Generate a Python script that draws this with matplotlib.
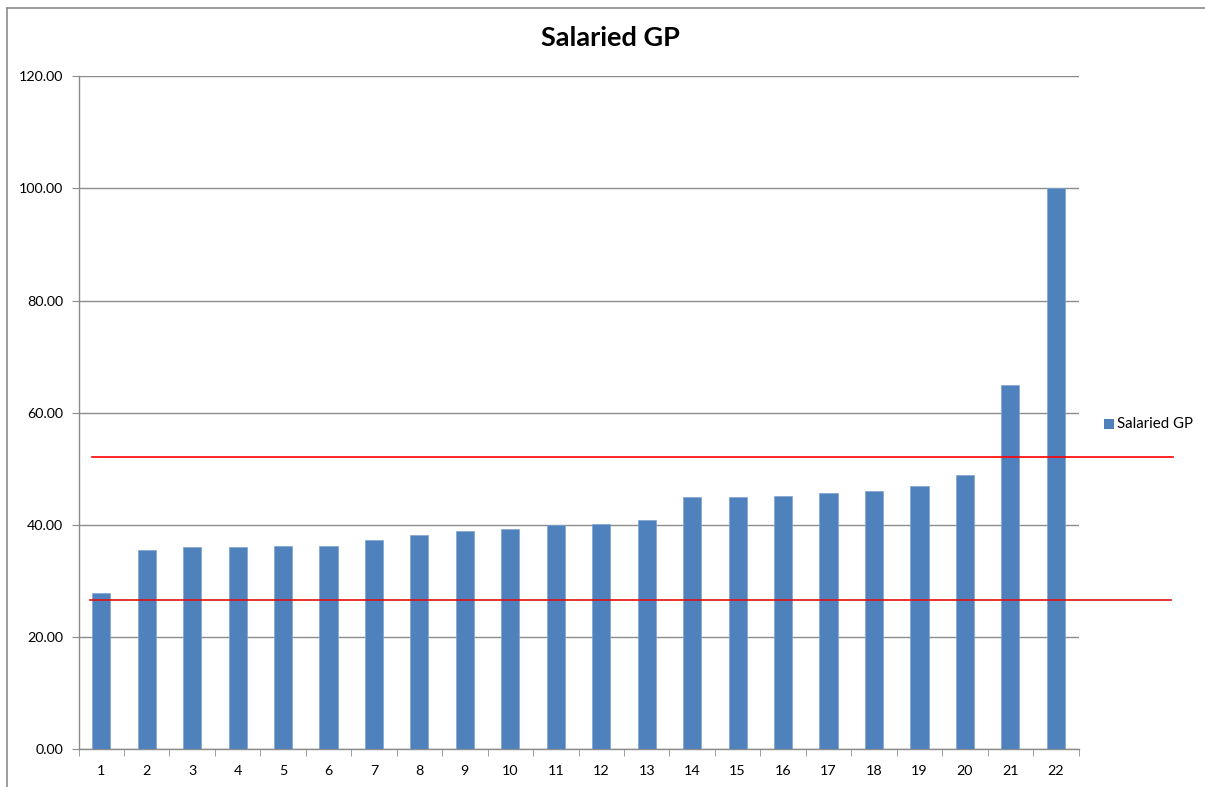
import matplotlib
matplotlib.use("Agg")
import matplotlib.pyplot as plt
from matplotlib.patches import Rectangle
from matplotlib.lines import Line2D

plt.rcParams['font.family'] = ['Lato', 'DejaVu Sans']

categories = [str(i) for i in range(1, 23)]
values = [27.8, 35.5, 36.1, 36.1, 36.3, 36.3, 37.4, 38.15, 39.0, 39.3, 40.05,
          40.1, 40.8, 44.9, 45.0, 45.1, 45.75, 46.0, 46.9, 48.95, 64.9, 100.0]
upper_ref = 52.2
lower_ref = 26.7
yticks = [0, 20, 40, 60, 80, 100, 120]
series_name = "Salaried GP"

W, H = 1205, 787
fig = plt.figure(figsize=(W / 100, H / 100), dpi=100)
fig.patch.set_facecolor('white')

# chart frame
fig.add_artist(Line2D([7 / W, 1.0], [1 - 7.5 / H, 1 - 7.5 / H], color='#8c8c8c', lw=1.2))
fig.add_artist(Line2D([7.5 / W, 7.5 / W], [0, 1 - 7.5 / H], color='#8c8c8c', lw=1.2))

left, right, top, bottom = 78.5, 1078.5, 76.3, 749.3
ax = fig.add_axes([left / W, 1 - bottom / H, (right - left) / W, (bottom - top) / H])

x = list(range(len(categories)))
ax.bar(x, values, width=0.4, color='#4F81BD', edgecolor='#7FA3D0', linewidth=0.5,
       zorder=3, label=series_name)

ax.set_xlim(-0.5, len(categories) - 0.5)
ax.set_ylim(0, 120)
ax.set_yticks(yticks)
ax.set_yticklabels([f"{v:.2f}" for v in yticks])
ax.set_xticks(x)
ax.set_xticklabels(categories)
ax.set_xticks([i - 0.5 for i in range(len(categories) + 1)], minor=True)

ax.grid(axis='y', color='#8c8c8c', linewidth=1.0, zorder=0)
for s in ['top', 'right']:
    ax.spines[s].set_visible(False)
for s in ['left', 'bottom']:
    ax.spines[s].set_color('#8c8c8c')
    ax.spines[s].set_linewidth(1.0)

ax.tick_params(axis='y', direction='out', length=5, color='#8c8c8c', labelsize=10.3,
               pad=6, labelcolor='black')
ax.tick_params(axis='x', which='major', length=0, labelsize=10.3, pad=11)
ax.tick_params(axis='x', which='minor', direction='out', length=5, color='#8c8c8c')

# reference lines (extend beyond plot area)
x0 = (92 - left) / (right - left)
x1 = (1173 - left) / (right - left)
ax.axhline(upper_ref, xmin=x0, xmax=x1, color='#FF0000', lw=1.2, clip_on=False, zorder=4)
x0b = (90 - left) / (right - left)
x1b = (1171 - left) / (right - left)
ax.axhline(lower_ref, xmin=x0b, xmax=x1b, color='#E01010', lw=1.2, clip_on=False, zorder=4)

fig.text(610 / W, 1 - 38 / H, series_name, ha='center', va='center', fontsize=19.5,
         fontweight='bold')

# legend
fig.add_artist(Rectangle((1104 / W, 1 - 428.5 / H), 9.5 / W, 9.5 / H,
                         transform=fig.transFigure, facecolor='#4F81BD', edgecolor='none'))
fig.text(1117 / W, 1 - 424 / H, series_name, ha='left', va='center', fontsize=10.8)

fig.savefig("out.png", dpi=100, facecolor='white')
